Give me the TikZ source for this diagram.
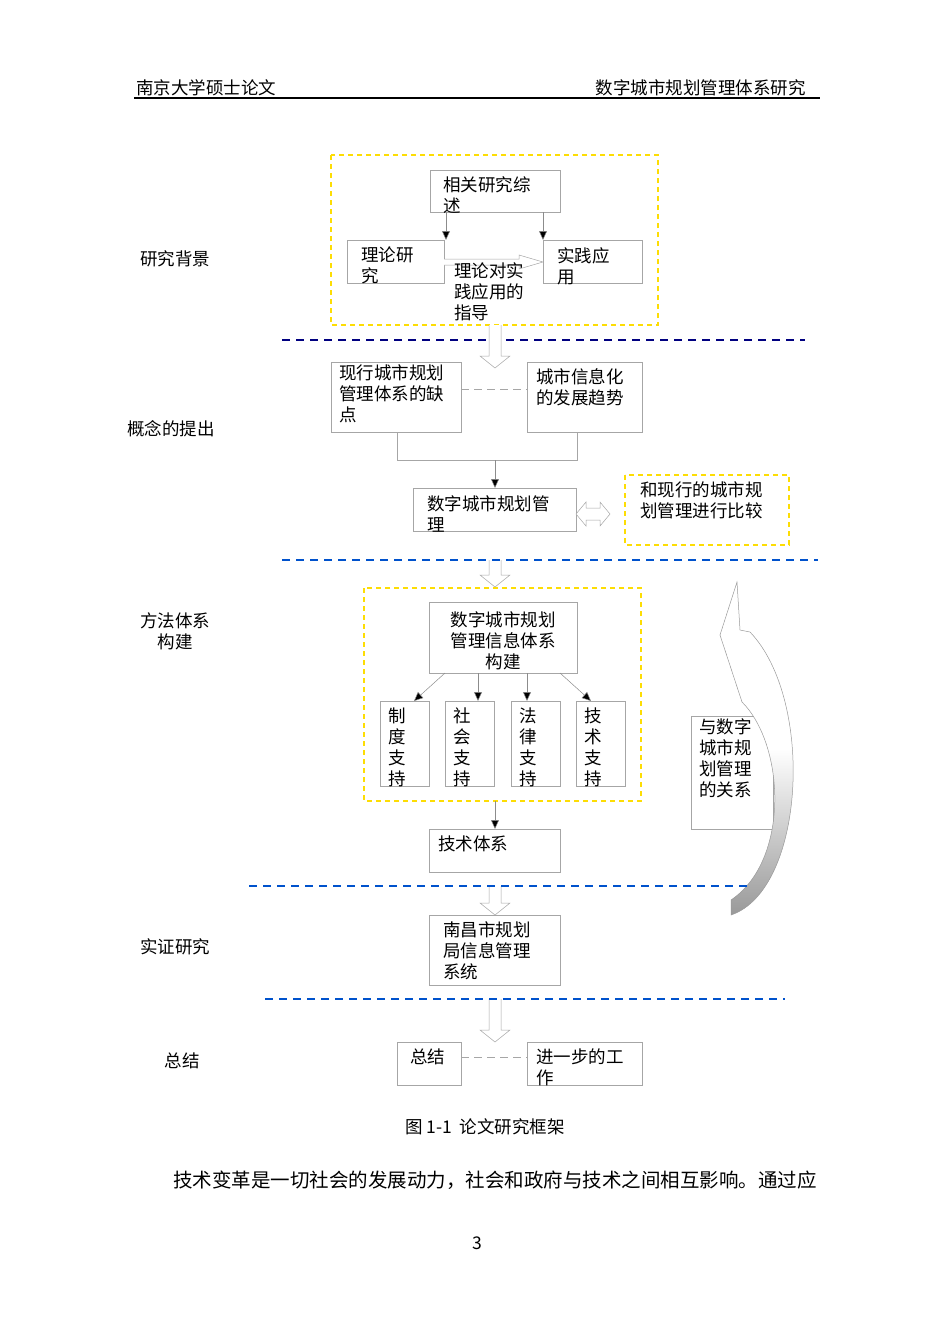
\documentclass[tikz,border=0pt]{standalone}
\usepackage{fontspec}
\setmainfont{Noto Sans CJK SC}
\usetikzlibrary{arrows.meta}
\begin{document}
\begin{tikzpicture}[x=1pt,y=-1pt,
  bx/.style={draw=black!35,line width=0.6pt},
  yb/.style={draw=yellow!80!orange,line width=1.4pt,dash pattern=on 5pt off 4pt},
  bl/.style={draw=blue!60!cyan!80!black,line width=1.6pt,dash pattern=on 8pt off 6pt},
  tx/.style={anchor=north west,inner sep=0pt,align=left,font=\fontsize{17.5}{21}\selectfont},
  lb/.style={inner sep=0pt,align=center,font=\fontsize{17.5}{21}\selectfont},
  ar/.style={draw=black!45,line width=0.5pt,-{Triangle[length=9pt,width=8pt,fill=black]}},
  hol/.style={draw=black!35,fill=white,line width=0.5pt}]
\useasboundingbox (0,0) rectangle (950,1342);
% header
\node[lb,anchor=west] (h1) at (136,88) {南京大学硕士论文};
\node[lb,anchor=east] (h2) at (806,88) {数字城市规划管理体系研究};
\draw[line width=1.2pt] (134,98) -- (820,98);
% left labels
\node[lb] (l1) at (175,259) {研究背景};
\node[lb] (l2) at (171,429) {概念的提出};
\node[lb] (l3) at (175,631) {方法体系\\构建};
\node[lb] (l4) at (175,947) {实证研究};
\node[lb] (l5) at (182,1061) {总结};
% top group
\draw[yb] (331,155) rectangle (658,325);
\draw[bx] (430,170) rectangle (560,212); \node[tx] at (443,176) {相关研究综\\述};
\draw[bx] (347,240) rectangle (444,283); \node[tx] at (361,247) {理论研\\究};
\draw[bx] (543,240) rectangle (642,283); \node[tx] at (557,247) {实践应\\用};
\coordinate (a1) at (446,212); \coordinate (a2) at (446,240);
\coordinate (a3) at (543,212); \coordinate (a4) at (543,240);
\draw[ar] (a1) -- (a2); \draw[ar] (a3) -- (a4);
\draw[hol] (444,259) -- (519,259) -- (519,255) -- (543,262) -- (519,269) -- (519,265) -- (444,265);
\node[tx] at (454,262) {理论对实\\践应用的\\指导};
\draw[bl,draw=blue!50!black] (282,340) -- (805,340);
% hollow down arrows
\foreach \ya/\yb in {325/368,560/587,886/915,999/1042}{
  \draw[hol] (489,\ya) -- (489,\yb-12) -- (480,\yb-12) -- (495,\yb) -- (510,\yb-12) -- (501,\yb-12) -- (501,\ya);
}
% concept
\draw[bx] (331,362) rectangle (461,432); \node[tx] at (339,364) {现行城市规划\\管理体系的缺\\点};
\draw[bx] (527,362) rectangle (642,432); \node[tx] at (536,368) {城市信息化\\的发展趋势};
\draw[black!35,dash pattern=on 8pt off 5pt] (461,389) -- (527,389);
\draw[bx] (397,432) -- (397,460) -- (577,460) -- (577,432);
\coordinate (b1) at (495,460);
\draw[ar] (b1) -- (495,488);
\draw[bx] (413,488) rectangle (576,531); \node[tx] at (427,495) {数字城市规划管\\理};
\draw[hol] (576,514) -- (586,502) -- (586,508) -- (600,508) -- (600,502) -- (610,514) -- (600,526) -- (600,520) -- (586,520) -- (586,526) -- cycle;
\draw[yb] (625,475) rectangle (789,545); \node[tx] at (640,481) {和现行的城市规\\划管理进行比较};
\draw[bl] (282,560) -- (818,560);
% method
\draw[yb] (364,588) rectangle (641,801);
\draw[bx] (429,602) rectangle (577,673); \node[lb] at (503,641) {数字城市规划\\管理信息体系\\构建};
\foreach \x/\t in {380/{制\\度\\支\\持},445/{社\\会\\支\\持},511/{法\\律\\支\\持},576/{技\\术\\支\\持}}{
  \draw[bx] (\x,701) rectangle (\x+49,786);
  \node[tx] at (\x+8,708) {\t};
}
\draw[ar] (445,673) -- (414,701);
\draw[ar] (478,673) -- (478,701);
\draw[ar] (527,673) -- (527,701);
\draw[ar] (560,673) -- (591,701);
\draw[ar] (495,801) -- (495,829);
\draw[bx] (429,829) rectangle (560,872); \node[tx] at (438,836) {技术体系};
% relation
\draw[bx] (691,716) rectangle (773,829); \node[tx] at (699,718) {与数字\\城市规\\划管理\\的关系};
\shade[top color=white,bottom color=black!40,middle color=white,draw=black!40,line width=0.5pt]
  (737,582) -- (720,635) -- (742,702) .. controls (785,745) and (790,860) .. (731,900)
  -- (731,915) .. controls (805,890) and (815,700) .. (750,632) -- (740,630) -- cycle;
\draw[bl] (249,886) -- (750,886);
\draw[bx] (429,915) rectangle (560,985); \node[tx] at (443,921) {南昌市规划\\局信息管理\\系统};
\draw[bl] (265,999) -- (785,999);
\draw[bx] (397,1042) rectangle (461,1085); \node[tx] at (410,1049) {总结};
\draw[bx] (527,1042) rectangle (642,1085); \node[tx] at (536,1049) {进一步的工\\作};
\draw[black!35,dash pattern=on 8pt off 5pt] (461,1057) -- (527,1057);
% caption and text
\node[lb] (cap) at (485,1127) {图 1-1\ \ 论文研究框架};
\node[lb,anchor=west,font=\fontsize{19.5}{23}\selectfont] (body) at (173,1180) {技术变革是一切社会的发展动力，社会和政府与技术之间相互影响。通过应};
\node[lb] (pg) at (477,1243) {3};
\end{tikzpicture}
\end{document}
